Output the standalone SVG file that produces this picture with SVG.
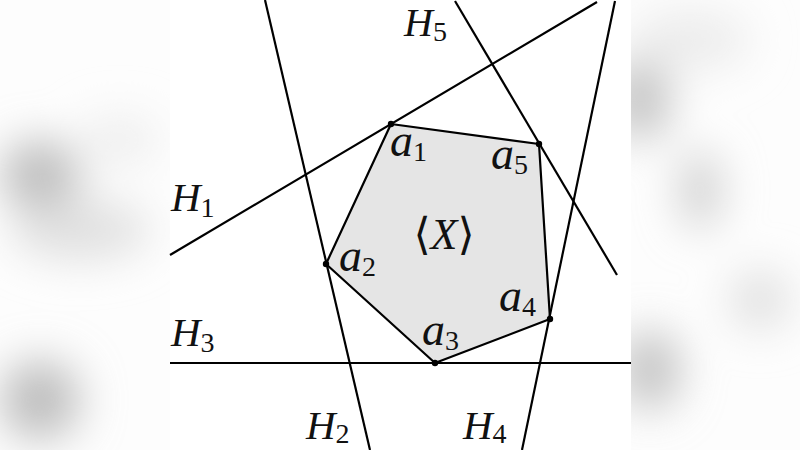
<svg xmlns="http://www.w3.org/2000/svg" width="800" height="450" viewBox="0 0 800 450">
<defs>
<filter id="blur" x="-50%" y="-50%" width="200%" height="200%"><feGaussianBlur stdDeviation="22"/></filter>
<style>
.ln{stroke:#000;stroke-width:2.2;fill:none;stroke-linecap:butt}
.lbl{font-family:"Liberation Serif","DejaVu Serif",serif;font-style:italic;fill:#111}
.sub{font-family:"Liberation Serif","DejaVu Serif",serif;font-style:normal;fill:#111}
.pt{fill:#000}
</style>
</defs>
<rect width="800" height="450" fill="#fdfdfd"/>
<g id="background" filter="url(#blur)">
<ellipse cx="40" cy="175" rx="40" ry="35" fill="#bdbdbd"/>
<ellipse cx="80" cy="230" rx="70" ry="30" fill="#e0e0e0"/>
<ellipse cx="40" cy="400" rx="40" ry="40" fill="#bdbdbd"/>
<ellipse cx="120" cy="140" rx="40" ry="25" fill="#eeeeee"/>
<ellipse cx="640" cy="100" rx="30" ry="40" fill="#c2c2c2"/>
<ellipse cx="700" cy="190" rx="20" ry="40" fill="#cecece"/>
<ellipse cx="760" cy="300" rx="30" ry="30" fill="#e0e0e0"/>
<ellipse cx="650" cy="370" rx="30" ry="40" fill="#c2c2c2"/>
<ellipse cx="690" cy="40" rx="60" ry="30" fill="#ececec"/>
</g>
<rect x="170" y="0" width="461" height="450" fill="#ffffff"/>
<g id="hull">
<polygon points="391,124 539,144 550,319 435,363 326,264" fill="#e5e5e5" stroke="#000" stroke-width="2.2" stroke-linejoin="round"/>
</g>
<g id="connectors">
<line class="ln" x1="170" y1="255" x2="597" y2="2"/>
<line class="ln" x1="265" y1="0" x2="370" y2="450"/>
<line class="ln" x1="170" y1="363" x2="631" y2="363"/>
<line class="ln" x1="615" y1="1" x2="522" y2="450"/>
<line class="ln" x1="455" y1="1" x2="617" y2="275"/>
</g>
<g id="points">
<circle class="pt" cx="391" cy="124" r="3.2"/>
<circle class="pt" cx="539" cy="144" r="3.2"/>
<circle class="pt" cx="550" cy="319" r="3.2"/>
<circle class="pt" cx="435" cy="363" r="3.2"/>
<circle class="pt" cx="326" cy="264" r="3.2"/>
</g>
<g id="H1"><text class="lbl" x="171" y="211" font-size="41">H<tspan class="sub" font-size="28" dy="6">1</tspan></text></g>
<g id="H2"><text class="lbl" x="306" y="439" font-size="41">H<tspan class="sub" font-size="28" dy="4">2</tspan></text></g>
<g id="H3"><text class="lbl" x="171" y="346" font-size="41">H<tspan class="sub" font-size="28" dy="6">3</tspan></text></g>
<g id="H4"><text class="lbl" x="463" y="439" font-size="41">H<tspan class="sub" font-size="28" dy="4">4</tspan></text></g>
<g id="H5"><text class="lbl" x="404" y="36" font-size="40">H<tspan class="sub" font-size="28" dy="5">5</tspan></text></g>
<g id="a1"><text class="lbl" x="390" y="156" font-size="46">a<tspan class="sub" font-size="28" dy="5">1</tspan></text></g>
<g id="a2"><text class="lbl" x="339" y="271" font-size="46">a<tspan class="sub" font-size="28" dy="5">2</tspan></text></g>
<g id="a3"><text class="lbl" x="422" y="345" font-size="46">a<tspan class="sub" font-size="28" dy="5">3</tspan></text></g>
<g id="a4"><text class="lbl" x="499" y="311" font-size="46">a<tspan class="sub" font-size="28" dy="5">4</tspan></text></g>
<g id="a5"><text class="lbl" x="491" y="169" font-size="46">a<tspan class="sub" font-size="28" dy="5">5</tspan></text></g>
<g id="X"><text x="444" y="249" font-size="44" text-anchor="middle" class="sub"><tspan font-family="DejaVu Serif" font-size="44">⟨</tspan><tspan class="lbl">X</tspan><tspan font-family="DejaVu Serif" font-size="44">⟩</tspan></text></g>
</svg>
